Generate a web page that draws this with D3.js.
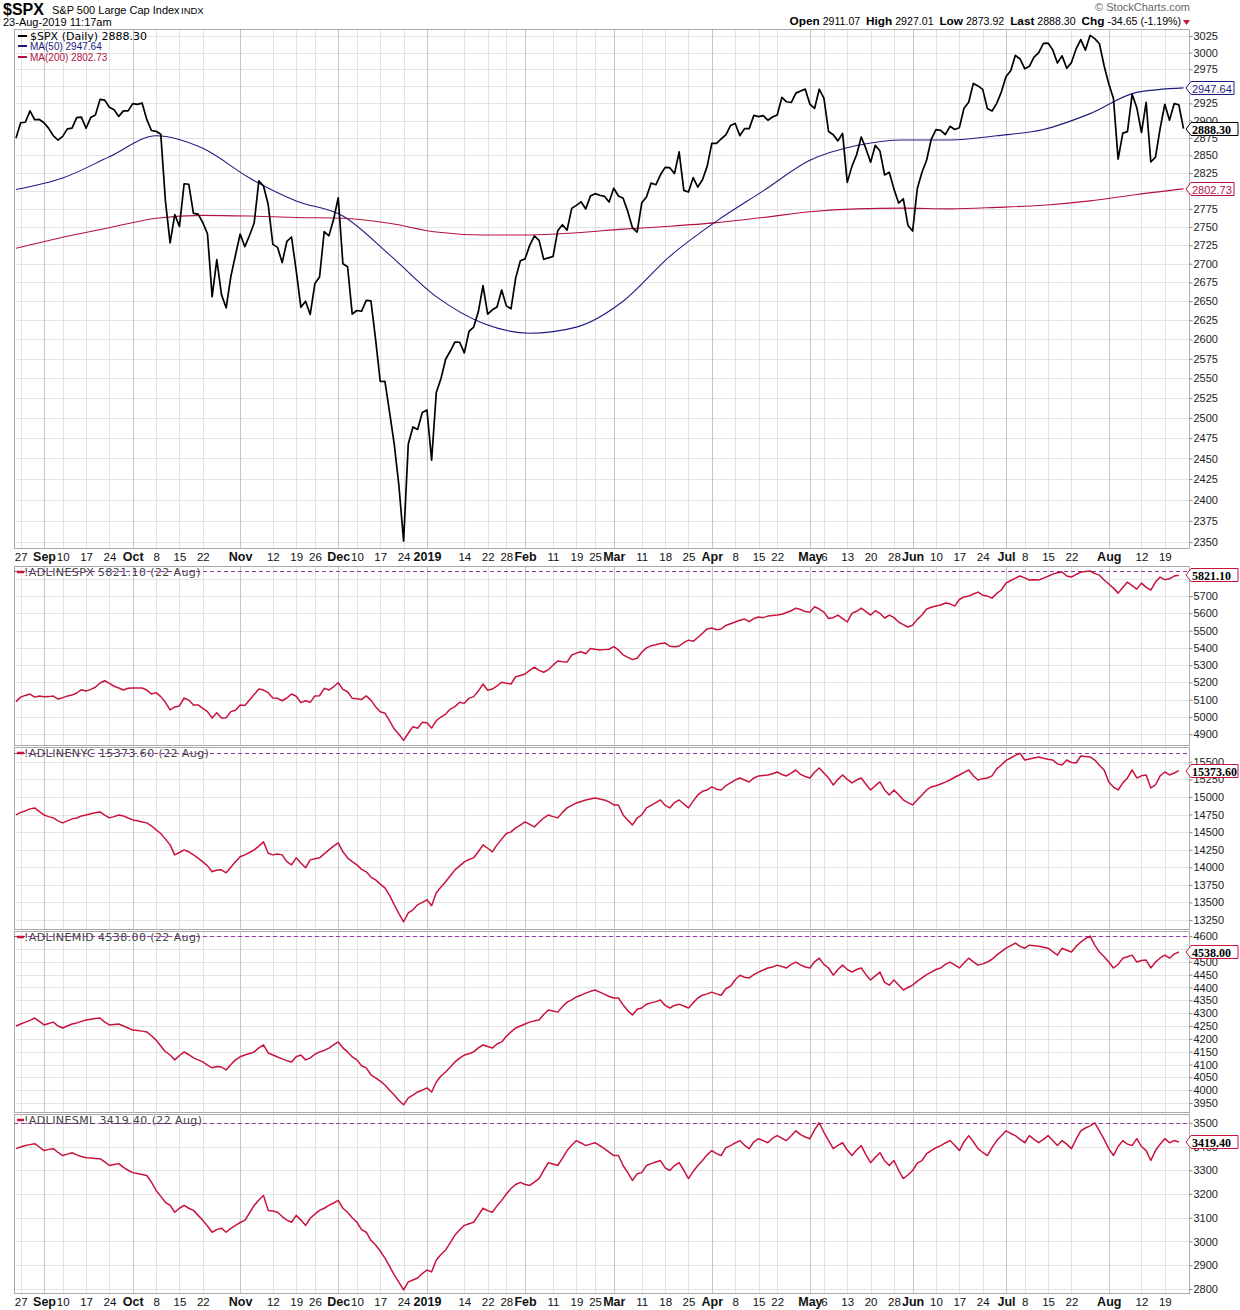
<!DOCTYPE html>
<html><head><meta charset="utf-8">
<script src="https://cdn.jsdelivr.net/npm/d3@7"></script>
<style>
body{margin:0;background:#fff}
svg{display:block;font-family:Arial,"Liberation Sans",sans-serif}
</style></head>
<body><svg id="chart" width="1240" height="1310"></svg>
<script>
// ---------------- DATA ----------------
// trading-day index 0 = 24-Aug-2018 ... 250 = 23-Aug-2019
const tickLabels = ["27","Sep","10","17","24","Oct","8","15","22","Nov","12","19","26","Dec","10","17","24","2019","14","22","28","Feb","11","19","25","Mar","11","18","25","Apr","8","15","22","May","6","13","20","28","Jun","10","17","24","Jul","8","15","22","Aug","12","19"];
const tickIndex  = [1,6,10,15,20,25,30,35,40,48,55,60,64,69,73,78,83,88,96,101,105,109,115,120,124,128,134,139,144,149,154,159,163,170,173,178,183,188,192,197,202,207,212,216,221,226,234,241,246];

const spxClose = [2874.69,2896.74,2897.52,2914.04,2901.13,2901.52,2896.72,2888.60,2878.05,2871.68,
2877.13,2887.89,2888.92,2904.18,2904.98,2888.80,2904.31,2907.95,2930.75,2929.67,
2919.37,2915.56,2905.97,2914.00,2913.98,2924.59,2923.43,2925.51,2901.61,2885.57,
2884.43,2880.34,2785.68,2728.37,2767.13,2750.79,2809.92,2809.21,2768.78,2767.78,
2755.88,2740.69,2656.10,2705.57,2658.69,2641.25,2682.63,2711.74,2740.37,2723.06,
2738.31,2755.45,2813.89,2806.83,2781.01,2726.22,2722.18,2701.58,2730.20,2736.27,
2690.73,2641.89,2649.93,2632.56,2673.45,2682.17,2743.79,2737.80,2760.17,2790.37,
2700.06,2695.95,2633.08,2637.72,2636.78,2651.07,2650.54,2599.95,2545.94,2546.16,
2506.96,2467.42,2416.62,2351.10,2467.70,2488.83,2485.74,2506.85,2510.03,2447.89,
2531.94,2549.69,2574.41,2584.96,2596.64,2596.26,2582.61,2610.30,2616.10,2635.96,
2670.71,2632.90,2638.70,2642.33,2664.76,2643.85,2640.00,2681.05,2704.10,2706.53,
2724.87,2737.70,2731.61,2706.05,2707.88,2709.80,2744.73,2753.03,2745.73,2775.60,
2779.76,2784.70,2774.88,2792.67,2796.11,2793.90,2792.38,2784.49,2803.69,2792.81,
2789.65,2771.45,2748.93,2743.07,2783.30,2791.52,2810.92,2808.48,2822.48,2832.94,
2832.57,2824.23,2854.88,2800.71,2798.36,2818.46,2805.37,2815.44,2834.40,2867.19,
2867.24,2873.40,2879.39,2892.74,2895.77,2878.20,2888.21,2888.32,2907.41,2905.58,
2907.06,2900.45,2905.03,2907.97,2933.68,2927.25,2926.17,2939.88,2943.03,2945.83,
2923.73,2917.52,2945.64,2932.47,2884.05,2879.42,2870.72,2881.40,2811.87,2834.41,
2850.96,2876.32,2859.53,2840.23,2864.36,2856.27,2822.24,2826.06,2802.39,2783.02,
2788.86,2752.06,2744.45,2803.27,2826.15,2843.49,2873.34,2886.73,2885.72,2879.84,
2891.64,2886.98,2889.67,2917.75,2926.46,2954.18,2950.46,2945.35,2917.38,2913.78,
2924.92,2941.76,2964.33,2973.01,2995.82,2990.41,2975.95,2979.63,2993.07,2999.91,
3013.77,3014.30,3004.04,2984.42,2995.11,2976.61,2985.03,3005.47,3019.56,3003.67,
3025.86,3020.97,3013.18,2980.38,2953.56,2932.05,2844.74,2881.77,2883.98,2938.09,
2918.65,2882.70,2926.32,2840.60,2847.60,2888.68,2923.65,2900.51,2924.43,2922.95,
2888.30];

const maIndex = [0,10,20,30,40,50,60,70,80,90,100,110,120,130,140,150,160,170,180,190,200,210,220,230,240,250];
const ma50  = [2802,2818,2848,2878,2860,2818,2786,2765,2712,2656,2621,2608,2616,2650,2710,2758,2800,2843,2864,2872,2872,2878,2887,2910,2941,2947.64];
const ma200 = [2721,2736,2749,2762,2766,2765,2763,2762,2755,2743,2739,2739,2742,2747,2751,2756,2763,2771,2775,2776,2775,2777,2780,2786,2795,2802.73];

// A/D lines, index 0 = 24-Aug-2018 ... 249 = 22-Aug-2019
const adSpx = [5089,5115,5125,5133,5115,5121,5117,5118,5121,5104,
5112,5121,5127,5139,5158,5150,5160,5172,5197,5210,
5195,5178,5168,5156,5166,5168,5168,5168,5156,5133,
5141,5118,5085,5041,5058,5064,5110,5098,5070,5070,
5050,5031,4994,5025,4994,4996,5031,5039,5070,5066,
5098,5130,5162,5156,5141,5110,5108,5094,5110,5133,
5120,5083,5094,5085,5122,5123,5166,5156,5175,5198,
5160,5146,5108,5105,5102,5122,5098,5060,5030,5022,
4977,4930,4900,4865,4906,4944,4935,4969,4967,4936,
4979,5000,5017,5046,5060,5085,5079,5108,5118,5150,
5191,5155,5162,5180,5201,5195,5191,5233,5240,5249,
5270,5288,5270,5259,5274,5300,5324,5320,5318,5359,
5370,5378,5366,5397,5392,5388,5390,5392,5407,5388,
5360,5345,5332,5340,5375,5400,5412,5418,5425,5428,
5410,5406,5411,5430,5445,5438,5460,5485,5510,5515,
5505,5510,5530,5540,5550,5560,5567,5552,5570,5579,
5575,5584,5588,5590,5595,5605,5615,5630,5622,5610,
5607,5638,5625,5607,5570,5575,5590,5570,5550,5600,
5612,5630,5610,5590,5615,5600,5573,5590,5575,5550,
5535,5521,5532,5565,5590,5625,5635,5642,5648,5660,
5655,5642,5680,5695,5700,5712,5723,5705,5700,5688,
5715,5735,5775,5790,5804,5816,5805,5793,5795,5793,
5804,5815,5827,5835,5839,5816,5810,5825,5839,5842,
5845,5830,5821,5793,5770,5746,5717,5750,5781,5760,
5740,5775,5750,5735,5781,5810,5795,5800,5816,5821.1];

const adNyc = [14744,14780,14801,14830,14844,14790,14744,14720,14702,14660,
14631,14660,14688,14700,14730,14744,14760,14775,14787,14740,
14702,14720,14744,14730,14700,14673,14660,14645,14631,14590,
14531,14480,14400,14318,14176,14210,14247,14220,14176,14130,
14077,14020,13935,13960,13963,13921,14000,14077,14150,14176,
14210,14247,14300,14361,14200,14176,14190,14176,14080,14034,
14134,14060,13992,14105,14120,14134,14190,14247,14300,14347,
14220,14134,14080,14034,13970,13935,13860,13821,13760,13708,
13600,13466,13340,13225,13350,13395,13466,13500,13537,13452,
13637,13720,13793,13880,13963,14020,14077,14110,14134,14220,
14318,14270,14219,14318,14400,14480,14503,14560,14600,14645,
14610,14574,14640,14700,14744,14720,14702,14780,14844,14880,
14915,14935,14957,14970,14986,14970,14957,14930,14886,14886,
14744,14670,14602,14700,14744,14844,14880,14920,14957,14880,
14844,14920,14957,14900,14844,14940,15028,15080,15099,15142,
15110,15099,15160,15199,15240,15270,15240,15213,15270,15298,
15305,15312,15330,15355,15320,15298,15340,15383,15320,15290,
15270,15350,15412,15340,15270,15170,15250,15312,15250,15199,
15240,15270,15180,15099,15160,15213,15100,15028,15099,15030,
14957,14920,14886,14960,15028,15100,15142,15160,15184,15210,
15241,15280,15312,15350,15383,15300,15241,15260,15270,15300,
15400,15454,15520,15554,15590,15620,15525,15540,15554,15568,
15550,15535,15525,15470,15454,15525,15490,15483,15582,15575,
15568,15525,15450,15383,15213,15140,15099,15200,15270,15383,
15270,15300,15312,15128,15170,15300,15355,15312,15340,15373.6];

const adMid = [4250,4258,4265,4272,4281,4268,4254,4260,4265,4250,
4242,4250,4258,4262,4268,4273,4276,4279,4281,4265,
4254,4256,4258,4250,4242,4234,4232,4230,4227,4212,
4195,4172,4150,4137,4118,4135,4149,4138,4126,4118,
4110,4098,4087,4092,4090,4079,4100,4118,4130,4137,
4143,4149,4165,4176,4145,4137,4129,4122,4115,4110,
4130,4137,4118,4126,4140,4149,4155,4164,4176,4188,
4165,4149,4130,4118,4095,4087,4060,4048,4035,4020,
4000,3981,3960,3943,3970,3981,3993,4000,4009,3993,
4032,4055,4071,4090,4110,4125,4137,4142,4149,4165,
4176,4170,4164,4180,4188,4210,4227,4242,4250,4258,
4265,4270,4273,4295,4312,4308,4304,4325,4343,4352,
4363,4370,4378,4385,4390,4382,4374,4365,4359,4359,
4332,4310,4293,4315,4320,4335,4340,4345,4351,4330,
4320,4330,4335,4328,4320,4340,4359,4370,4375,4382,
4375,4370,4395,4405,4430,4448,4440,4437,4450,4460,
4468,4476,4480,4487,4482,4476,4490,4499,4488,4480,
4476,4500,4514,4490,4476,4448,4470,4487,4470,4460,
4470,4476,4450,4429,4445,4460,4420,4409,4429,4410,
4390,4400,4409,4425,4437,4450,4460,4470,4476,4490,
4499,4488,4476,4495,4514,4500,4487,4492,4499,4510,
4526,4540,4553,4563,4573,4560,4553,4565,4563,4561,
4557,4553,4540,4526,4553,4545,4538,4560,4577,4590,
4600,4565,4538,4520,4499,4476,4490,4514,4520,4526,
4499,4505,4507,4476,4499,4515,4526,4514,4530,4538];

const adSml = [3391,3398,3404,3408,3412,3398,3383,3388,3391,3375,
3362,3368,3374,3365,3358,3353,3352,3350,3349,3335,
3320,3324,3328,3312,3300,3290,3286,3282,3278,3250,
3215,3190,3165,3152,3123,3140,3152,3140,3131,3110,
3089,3065,3039,3050,3056,3039,3055,3068,3080,3089,
3120,3152,3175,3194,3131,3128,3123,3105,3090,3081,
3110,3090,3068,3098,3115,3131,3140,3152,3162,3173,
3140,3123,3100,3081,3050,3039,3005,2985,2960,2930,
2895,2859,2828,2796,2830,2838,2846,2865,2880,2872,
2922,2945,2964,2995,3027,3048,3068,3075,3081,3110,
3140,3130,3123,3150,3173,3200,3223,3240,3249,3240,
3236,3250,3265,3300,3332,3326,3320,3350,3383,3405,
3425,3415,3404,3410,3416,3404,3391,3376,3362,3362,
3320,3290,3257,3285,3290,3320,3328,3335,3341,3310,
3299,3320,3332,3300,3265,3295,3320,3341,3365,3383,
3370,3362,3395,3404,3415,3425,3405,3391,3420,3433,
3425,3416,3435,3446,3435,3425,3445,3466,3450,3440,
3433,3470,3500,3460,3425,3391,3405,3416,3385,3362,
3385,3404,3365,3332,3355,3374,3340,3320,3341,3300,
3265,3280,3299,3330,3341,3370,3383,3395,3404,3415,
3425,3405,3383,3420,3446,3420,3391,3375,3362,3395,
3425,3445,3466,3455,3446,3430,3416,3446,3430,3416,
3430,3446,3425,3404,3425,3410,3391,3430,3466,3478,
3487,3500,3466,3430,3391,3362,3400,3425,3410,3404,
3433,3400,3383,3341,3383,3410,3433,3416,3425,3419.4];

const mainTicks = [2350,2375,2400,2425,2450,2475,2500,2525,2550,2575,2600,2625,2650,2675,2700,2725,2750,2775,2800,2825,2850,2875,2900,2925,2950,2975,3000,3025];
const spxAdTicks = [4900,5000,5100,5200,5300,5400,5500,5600,5700,5800];
const nycTicks = [13250,13500,13750,14000,14250,14500,14750,15000,15250,15500];
const midTicks = [3950,4000,4050,4100,4150,4200,4250,4300,4350,4400,4450,4500,4550,4600];
const smlTicks = [2800,2900,3000,3100,3200,3300,3400,3500];

// ---------------- LAYOUT ----------------
const svg = d3.select('#chart');
const plotL = 14, plotR = 1189;
const x = d3.scaleLinear().domain([0, 250]).range([16, 1183.5]);
const GRID = '#e3e3e3', MGRID = '#c6c6c6', BORDER = '#a9a9a9';
const AD_COLOR = '#c8143c', PURPLE = '#9a35b0';
const isBold = l => isNaN(+l) || l.length === 4;

const yMain = d3.scaleLog().domain([2343, 3037]).range([548, 28]);
const ySpx  = d3.scaleLinear().domain([4838, 5874]).range([745, 566]);
const yNyc  = d3.scaleLinear().domain([13122, 15710]).range([929, 747]);
const yMid  = d3.scaleLinear().domain([3915, 4620]).range([1112, 931]);
const ySml  = d3.scaleLinear().domain([2783, 3537]).range([1293, 1114]);

// values shown in boxes on the right axis (their labels hide the tick labels beneath)
function panel(top, bottom, y, ticks, boxValues) {
  const g = svg.append('g');
  g.append('rect').attr('x', plotL).attr('y', top).attr('width', plotR - plotL).attr('height', bottom - top).attr('fill', '#fff');
  g.selectAll('line.h').data(ticks).enter().append('line')
    .attr('x1', plotL).attr('x2', plotR)
    .attr('y1', d => Math.round(y(d)) + 0.5).attr('y2', d => Math.round(y(d)) + 0.5)
    .attr('stroke', GRID);
  g.selectAll('line.v').data(tickIndex).enter().append('line')
    .attr('x1', d => Math.round(x(d)) + 0.5).attr('x2', d => Math.round(x(d)) + 0.5)
    .attr('y1', top).attr('y2', bottom)
    .attr('stroke', (d, i) => isBold(tickLabels[i]) ? MGRID : GRID);
  g.append('rect').attr('x', plotL + 0.5).attr('y', top + 0.5).attr('width', plotR - plotL).attr('height', bottom - top)
    .attr('fill', 'none').attr('stroke', BORDER);
  const hidden = t => boxValues.some(b => Math.abs(y(b) - y(t)) < 5);
  const ax = svg.append('g').attr('transform', `translate(${plotR + 0.5},0)`)
    .call(d3.axisRight(y).tickValues(ticks.filter(t => !hidden(t))).tickSize(3).tickPadding(1).tickFormat(d3.format('d')));
  ax.select('.domain').attr('stroke', '#b0b0b0').attr('d', `M0,${top}V${bottom}`);
  ax.selectAll('.tick line').attr('stroke', '#888');
  ax.selectAll('.tick text').attr('font-size', 11).attr('fill', '#222').attr('font-family', 'Arial, "Liberation Sans", sans-serif');
  return g;
}

function dateAxis(yPos) {
  const ax = svg.append('g').attr('transform', `translate(0,${yPos})`)
    .call(d3.axisBottom(x).tickValues(tickIndex).tickSize(0).tickPadding(0)
      .tickFormat((d, i) => tickLabels[i]));
  ax.select('.domain').remove();
  ax.selectAll('.tick text')
    .attr('font-family', 'Arial, "Liberation Sans", sans-serif')
    .attr('fill', '#111')
    .attr('dy', 0)
    .attr('font-size', (d, i) => isBold(tickLabels[i]) ? 12.5 : 11.5)
    .attr('font-weight', (d, i) => isBold(tickLabels[i]) ? 'bold' : 'normal');
}

function valueBox(yc, txt, stroke, color, bold) {
  const x0 = 1186, w = bold ? 52 : 48, h = 13;
  svg.append('path')
    .attr('d', `M${x0},${yc} L${x0 + 5},${yc - h / 2} L${x0 + w},${yc - h / 2} L${x0 + w},${yc + h / 2} L${x0 + 5},${yc + h / 2} Z`)
    .attr('fill', '#fff').attr('stroke', stroke).attr('stroke-width', 1);
  svg.append('text').attr('x', x0 + 6).attr('y', yc + 4.5)
    .attr('font-size', bold ? 12 : 11).attr('font-weight', bold ? 'bold' : 'normal')
    .attr('font-family', bold ? '"Liberation Serif","Times New Roman",serif' : 'Arial, "Liberation Sans", sans-serif')
    .attr('fill', color).text(txt);
}

// ---------------- HEADER ----------------
svg.append('text').attr('x', 3).attr('y', 15).attr('font-size', 16).attr('font-weight', 'bold').text('$SPX');
svg.append('text').attr('x', 52).attr('y', 14).attr('font-size', 11).text('S&P 500 Large Cap Index');
svg.append('text').attr('x', 181).attr('y', 14).attr('font-size', 9.5).text('INDX');
svg.append('text').attr('x', 3).attr('y', 26).attr('font-size', 11).text('23-Aug-2019 11:17am');
svg.append('text').attr('x', 1190).attr('y', 11).attr('text-anchor', 'end').attr('font-size', 11).attr('fill', '#666').text('\u00a9 StockCharts.com');
const ohlc = svg.append('text').attr('x', 1181).attr('y', 25).attr('text-anchor', 'end').attr('font-size', 10.6);
[['Open', ' 2911.07  '], ['High', ' 2927.01  '], ['Low', ' 2873.92  '], ['Last', ' 2888.30  '], ['Chg', ' -34.65 (-1.19%)']].forEach(([k, v]) => {
  ohlc.append('tspan').attr('font-weight', 'bold').attr('font-size', 11.8).text(k);
  ohlc.append('tspan').attr('xml:space', 'preserve').text(v);
});
svg.append('path').attr('d', 'M1183,20 L1190,20 L1186.5,25 Z').attr('fill', '#c8143c');

// ---------------- PANELS ----------------
const lastOf = a => a[a.length - 1];
panel(29, 548, yMain, mainTicks, [lastOf(ma50), lastOf(ma200)]);
panel(566, 745, ySpx, spxAdTicks, [lastOf(adSpx)]);
panel(747, 929, yNyc, nycTicks, []);
panel(931, 1112, yMid, midTicks, []);
panel(1114, 1293, ySml, smlTicks, []);

dateAxis(561);
dateAxis(1306);

const maLine = d3.line().x((d, i) => x(maIndex[i])).y(d => yMain(d)).curve(d3.curveMonotoneX);
svg.append('path').attr('d', maLine(ma200)).attr('fill', 'none').attr('stroke', '#b3123f').attr('stroke-width', 1.1);
svg.append('path').attr('d', maLine(ma50)).attr('fill', 'none').attr('stroke', '#1c1c80').attr('stroke-width', 1.1);
svg.append('path').attr('d', d3.line().x((d, i) => x(i)).y(d => yMain(d))(spxClose))
  .attr('fill', 'none').attr('stroke', '#000').attr('stroke-width', 1.7).attr('stroke-linejoin', 'round');

const lg = [
  { t: '$SPX (Daily) 2888.30', c: '#000', y: 40, fs: 11, ff: '"DejaVu Sans", Verdana, sans-serif' },
  { t: 'MA(50) 2947.64', c: '#1c1c80', y: 50, fs: 10, ff: 'Arial, sans-serif' },
  { t: 'MA(200) 2802.73', c: '#b3123f', y: 61, fs: 10, ff: 'Arial, sans-serif' }];
lg.forEach(d => {
  svg.append('line').attr('x1', 18).attr('x2', 27).attr('y1', d.y - 4).attr('y2', d.y - 4).attr('stroke', d.c).attr('stroke-width', 2);
  svg.append('text').attr('x', 30).attr('y', d.y).attr('font-size', d.fs).attr('font-family', d.ff).attr('fill', d.c).text(d.t);
});

valueBox(Math.round(yMain(lastOf(ma50))), '2947.64', '#1c1c80', '#1c1c80', false);
valueBox(Math.round(yMain(lastOf(spxClose))), '2888.30', '#000', '#000', true);
valueBox(Math.round(yMain(lastOf(ma200))), '2802.73', '#b3123f', '#b3123f', false);

const adPanels = [
  { data: adSpx, y: ySpx, top: 566, name: '!ADLINESPX 5821.10 (22 Aug)', last: '5821.10' },
  { data: adNyc, y: yNyc, top: 747, name: '!ADLINENYC 15373.60 (22 Aug)', last: '15373.60' },
  { data: adMid, y: yMid, top: 931, name: '!ADLINEMID 4538.00 (22 Aug)', last: '4538.00' },
  { data: adSml, y: ySml, top: 1114, name: '!ADLINESML 3419.40 (22 Aug)', last: '3419.40' }];
adPanels.forEach(p => {
  const maxY = Math.round(p.y(d3.max(p.data))) + 0.5;
  svg.append('line').attr('x1', plotL).attr('x2', plotR).attr('y1', maxY).attr('y2', maxY)
    .attr('stroke', PURPLE).attr('stroke-dasharray', '4,3').attr('stroke-width', 1);
  svg.append('path').attr('d', d3.line().x((d, i) => x(i)).y(d => p.y(d))(p.data))
    .attr('fill', 'none').attr('stroke', AD_COLOR).attr('stroke-width', 1.5).attr('stroke-linejoin', 'round');
  svg.append('line').attr('x1', 17).attr('x2', 24).attr('y1', p.top + 6).attr('y2', p.top + 6).attr('stroke', AD_COLOR).attr('stroke-width', 2.5);
  svg.append('text').attr('x', 24).attr('y', p.top + 10).attr('font-size', 11).attr('letter-spacing', 0.4)
    .attr('font-family', '"DejaVu Sans", Verdana, sans-serif').attr('fill', '#444').text(p.name);
  valueBox(Math.round(p.y(lastOf(p.data))), p.last, AD_COLOR, '#000', true);
});
</script>
</body></html>
